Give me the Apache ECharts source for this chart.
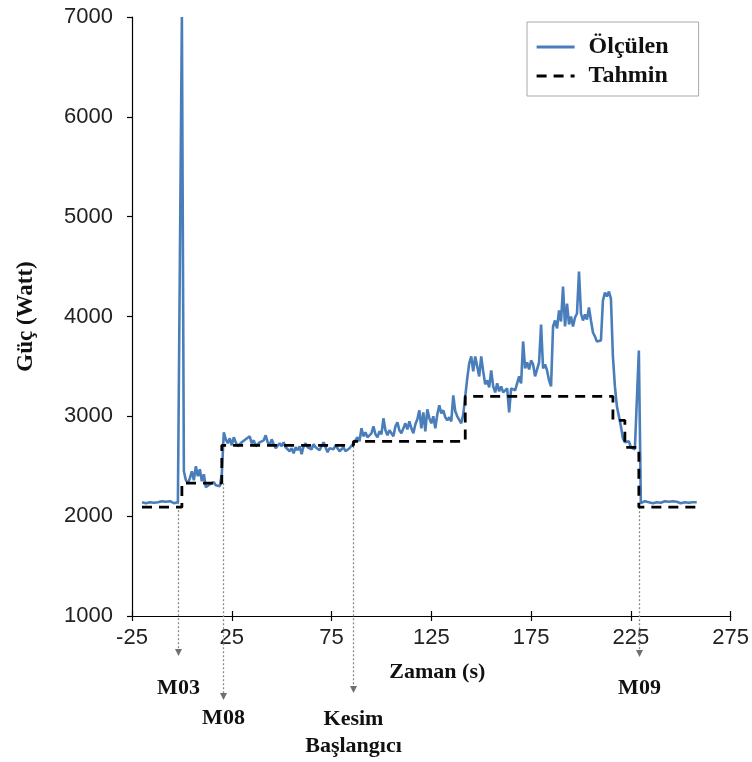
<!DOCTYPE html>
<html>
<head>
<meta charset="utf-8">
<script src="https://cdn.jsdelivr.net/npm/echarts@6/dist/echarts.min.js"></script>
<style>
  html, body { margin: 0; padding: 0; background: #ffffff; }
  #chart { width: 752px; height: 762px; }
</style>
</head>
<body>
<div id="chart"></div>
<script>
// Measured power (W), one sample per second
const measuredTime = [
  -20,-19,-18,-17,-16,-15,-14,-13,-12,-11,-10,-9,-8,-7,-6,-5,-4,-3,-2,-1,
  0,1,2,3,4,5,6,7,8,9,10,11,12,13,14,15,16,17,18,19,20,
  21,22,23,24,25,26,27,28,29,30,31,32,33,34,35,36,37,38,39,40,
  41,42,43,44,45,46,47,48,49,50,51,52,53,54,55,56,57,58,59,60,
  61,62,63,64,65,66,67,68,69,70,71,72,73,74,75,76,77,78,79,80,
  81,82,83,84,85,86,87,88,89,90,91,92,93,94,95,96,97,98,99,100,
  101,102,103,104,105,106,107,108,109,110,111,112,113,114,115,116,117,118,119,120,
  121,122,123,124,125,126,127,128,129,130,131,132,133,134,135,136,137,138,139,140,
  141,142,143,144,145,146,147,148,149,150,151,152,153,154,155,156,157,158,159,160,
  161,162,163,164,165,166,167,168,169,170,171,172,173,174,175,176,177,178,179,180,
  181,182,183,184,185,186,187,188,189,190,191,192,193,194,195,196,197,198,199,200,
  201,202,203,204,205,206,207,208,209,210,211,212,213,214,215,216,217,218,219,220,
  221,222,223,224,225,226,227,228,229,230,231,232,233,234,235,236,237,238,239,240,
  241,242,243,244,245,246,247,248,249,250,251,252,253,254,255,256,257,258
];
const measuredPower = [
  2140,2150,2130,2145,2140,2150,2135,2145,2140,2130,2150,2140,2145,2135,2150,2140,2130,2145,2140,2160,
  7000,2450,2360,2330,2380,2450,2360,2500,2400,2470,2350,2420,2290,2280,2320,2300,2340,2310,2330,2300,2420,
  2840,2770,2730,2780,2710,2790,2740,2700,2690,2740,2720,2770,2750,2800,2730,2760,2700,2680,2740,2720,
  2760,2810,2740,2710,2770,2720,2680,2660,2730,2700,2740,2690,2700,2650,2680,2630,2690,2660,2700,2620,
  2700,2730,2690,2710,2670,2720,2690,2700,2660,2700,2740,2760,2640,2680,2700,2670,2710,2690,2650,2670,
  2690,2650,2640,2680,2700,2730,2760,2790,2750,2880,2800,2840,2790,2800,2830,2900,2820,2790,2850,2820,
  2980,2860,2810,2860,2840,2800,2900,2940,2860,2830,2880,2930,2870,2950,2880,2830,2920,2970,3060,2880,
  3040,2850,3070,2980,2930,3000,2880,3020,3110,3030,3060,2990,2960,2990,2950,3210,3050,3000,2980,2930,
  3020,3200,3380,3530,3600,3450,3600,3580,3400,3600,3450,3320,3360,3290,3460,3300,3240,3330,3250,3300,
  3240,3220,3280,3040,3280,3300,3260,3330,3400,3330,3750,3480,3540,3470,3560,3520,3400,3380,3540,3920,
  3480,3520,3460,3360,3300,3900,3960,3880,4060,3950,4300,3900,4130,3920,4000,3900,3990,4030,4450,4030,
  3960,4020,3970,4090,3960,3840,3800,3750,3740,3760,4160,4240,4200,4250,4180,3600,3300,3100,3000,2900,
  2780,2740,2720,2750,2690,2700,2670,2660,3660,2130,2140,2150,2135,2140,2150,2130,2145,2140,2150,2135,
  2140,2150,2130,2145,2140,2150,2135,2145,2140,2130,2150,2140,2145,2135,2150,2140,2130,2140
];

// Estimated power (W): level changes at each step time
const estimateTime  = [-20, 0, 20, 86, 142, 216, 222, 229, 258];
const estimatePower = [2090, 2330, 2710, 2750, 3200, 2960, 2690, 2090, 2090];

// Axis ranges and ticks
const xMin = -25, xMax = 275, xStep = 50;
const yMin = 1000, yMax = 7000, yStep = 1000;

// Machine events marked below the time axis
const eventLabel = ['M03', 'M08', 'Kesim\nBaşlangıcı', 'M09'];
const eventTime  = [-2, 20.5, 85.5, 229];
const eventPower = [2140, 2330, 2700, 2130];

const seriesNames = ['Ölçülen', 'Tahmin'];

// ---- layout / style ----
const serif = '"Liberation Serif", "Times New Roman", serif';
const sans = '"Liberation Sans", Arial, sans-serif';
const arrowDrop = [40, 84, 77, 41];    // px below the axis line where each arrow ends
const labelDrop = [72, 102, 117, 72];  // px below the axis line where each label centre sits
const lineGray = '#8a8a8a';

const chart = echarts.init(document.getElementById('chart'), null, { renderer: 'canvas' });

const pairs = (xs, ys) => xs.map((x, i) => [x, ys[i]]);

const axisCommon = {
  type: 'value',
  splitLine: { show: false },
  axisLine: { show: true, onZero: false, lineStyle: { color: '#000', width: 1.2 } },
  axisTick: { show: true, length: 5, lineStyle: { color: '#000', width: 1.2 } }
};

chart.setOption({
  animation: false,
  backgroundColor: '#ffffff',
  grid: { left: 132, right: 21, top: 17, bottom: 146, containLabel: false },
  legend: {
    orient: 'vertical',
    left: 527,
    top: 22,
    padding: [13, 30, 8, 8],
    itemGap: 5,
    itemWidth: 38,
    itemHeight: 14,
    borderColor: '#a8a8a8',
    borderWidth: 1,
    data: seriesNames,
    itemStyle: { opacity: 0 },
    lineStyle: { width: 3.2 },
    textStyle: { fontFamily: serif, fontWeight: 'bold', fontSize: 24, color: '#111', padding: [0, 0, 0, 9] }
  },
  xAxis: [
    Object.assign({}, axisCommon, {
      min: xMin, max: xMax, interval: xStep,
      name: 'Zaman (s)',
      nameLocation: 'middle',
      nameGap: 45,
      nameTextStyle: { fontFamily: serif, fontWeight: 'bold', fontSize: 22, color: '#111', padding: [0, 0, 0, 12] },
      axisLabel: { margin: 11, fontFamily: sans, fontSize: 22, color: '#222' }
    }),
    Object.assign({}, axisCommon, {
      min: xMin, max: xMax, interval: xStep,
      position: 'bottom',
      axisLabel: { show: false },
      axisTick: { show: true, inside: true, length: 5, lineStyle: { color: '#000', width: 1.2 } }
    })
  ],
  yAxis: Object.assign({}, axisCommon, {
    min: yMin, max: yMax, interval: yStep,
    name: 'Güç (Watt)',
    nameLocation: 'middle',
    nameGap: 94,
    nameTextStyle: { fontFamily: serif, fontWeight: 'bold', fontSize: 23, color: '#111' },
    axisLabel: { margin: 19, fontFamily: sans, fontSize: 22, color: '#222', formatter: (v) => String(v) }
  }),
  series: [
    {
      name: seriesNames[0],
      type: 'line',
      data: pairs(measuredTime, measuredPower),
      showSymbol: false,
      symbol: 'none',
      clip: true,
      lineStyle: { color: '#4a7ebb', width: 2.6 },
      itemStyle: { color: '#4a7ebb' },
      z: 2
    },
    {
      name: seriesNames[1],
      type: 'line',
      step: 'end',
      data: pairs(estimateTime, estimatePower),
      showSymbol: false,
      symbol: 'none',
      lineStyle: { color: '#000', width: 2.8, type: [10, 7] },
      itemStyle: { color: '#000' },
      z: 3
    }
  ]
});

// Event markers: dotted drop lines with arrowheads and labels under the axis
function drawEvents() {
  const axisY = chart.convertToPixel({ gridIndex: 0 }, [xMin, yMin])[1];
  const elements = [];
  eventTime.forEach((t, i) => {
    const top = chart.convertToPixel({ gridIndex: 0 }, [t, eventPower[i]]);
    const x = Math.round(top[0]) + 0.5;
    const tipY = axisY + arrowDrop[i];
    elements.push({
      type: 'line',
      shape: { x1: x, y1: top[1], x2: x, y2: tipY - 6 },
      style: { stroke: lineGray, lineWidth: 1.3, lineDash: [2, 2] },
      z: 1
    });
    elements.push({
      type: 'polygon',
      shape: { points: [[x - 3.5, tipY - 7], [x + 3.5, tipY - 7], [x, tipY]] },
      style: { fill: '#6f6f6f' },
      z: 1
    });
    elements.push({
      type: 'text',
      x: x,
      y: axisY + labelDrop[i],
      style: {
        text: eventLabel[i],
        fontFamily: serif,
        fontWeight: 'bold',
        fontSize: 22,
        lineHeight: 27,
        fill: '#111',
        align: 'center',
        verticalAlign: 'middle'
      },
      z: 5
    });
  });
  chart.setOption({ graphic: elements });
}
drawEvents();
</script>
</body>
</html>
